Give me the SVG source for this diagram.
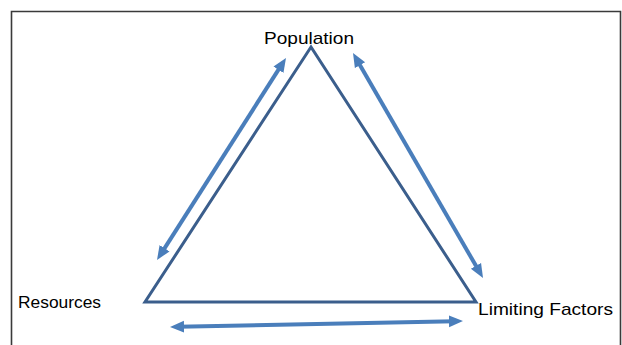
<svg xmlns="http://www.w3.org/2000/svg" width="622" height="345" viewBox="0 0 622 345">
<defs>
<style>
.lbl{font-family:"Liberation Sans",Arial,sans-serif;font-size:17px;fill:#000}
.tri{fill:none;stroke:#3b5e8c;stroke-width:3;stroke-linejoin:miter}
.arr{stroke:#4a7ebb;stroke-width:4;fill:none;marker-start:url(#ah);marker-end:url(#ah)}
</style>
<marker id="ah" viewBox="0 0 10 10" refX="4.3" refY="5" markerWidth="3.5" markerHeight="3.5" orient="auto-start-reverse" markerUnits="strokeWidth">
<path d="M0,0.8 L10,5 L0,9.2 z" fill="#4a7ebb"/>
</marker>
</defs>
<rect x="0" y="0" width="622" height="345" fill="#fff"/>
<path d="M11.5,360 V11.5 H620.5 V360" fill="none" stroke="#3a3a3a" stroke-width="1.6"/>
<g id="triangle">
<polygon class="tri" points="311,47 145,302 476,302"/>
</g>
<g id="population"><text class="lbl" x="264" y="44" textLength="90" lengthAdjust="spacingAndGlyphs">Population</text></g>
<g id="resources"><text class="lbl" x="18" y="308" textLength="83" lengthAdjust="spacingAndGlyphs">Resources</text></g>
<g id="limiting-factors"><text class="lbl" x="478" y="315" textLength="135" lengthAdjust="spacingAndGlyphs">Limiting Factors</text></g>
<g id="connectors">
<line class="arr" x1="161.3" y1="253.3" x2="281.7" y2="64.7"/>
<line class="arr" x1="357" y1="59.9" x2="479" y2="271.1"/>
<line class="arr" x1="178" y1="326.8" x2="455" y2="321.2"/>
</g>
</svg>
